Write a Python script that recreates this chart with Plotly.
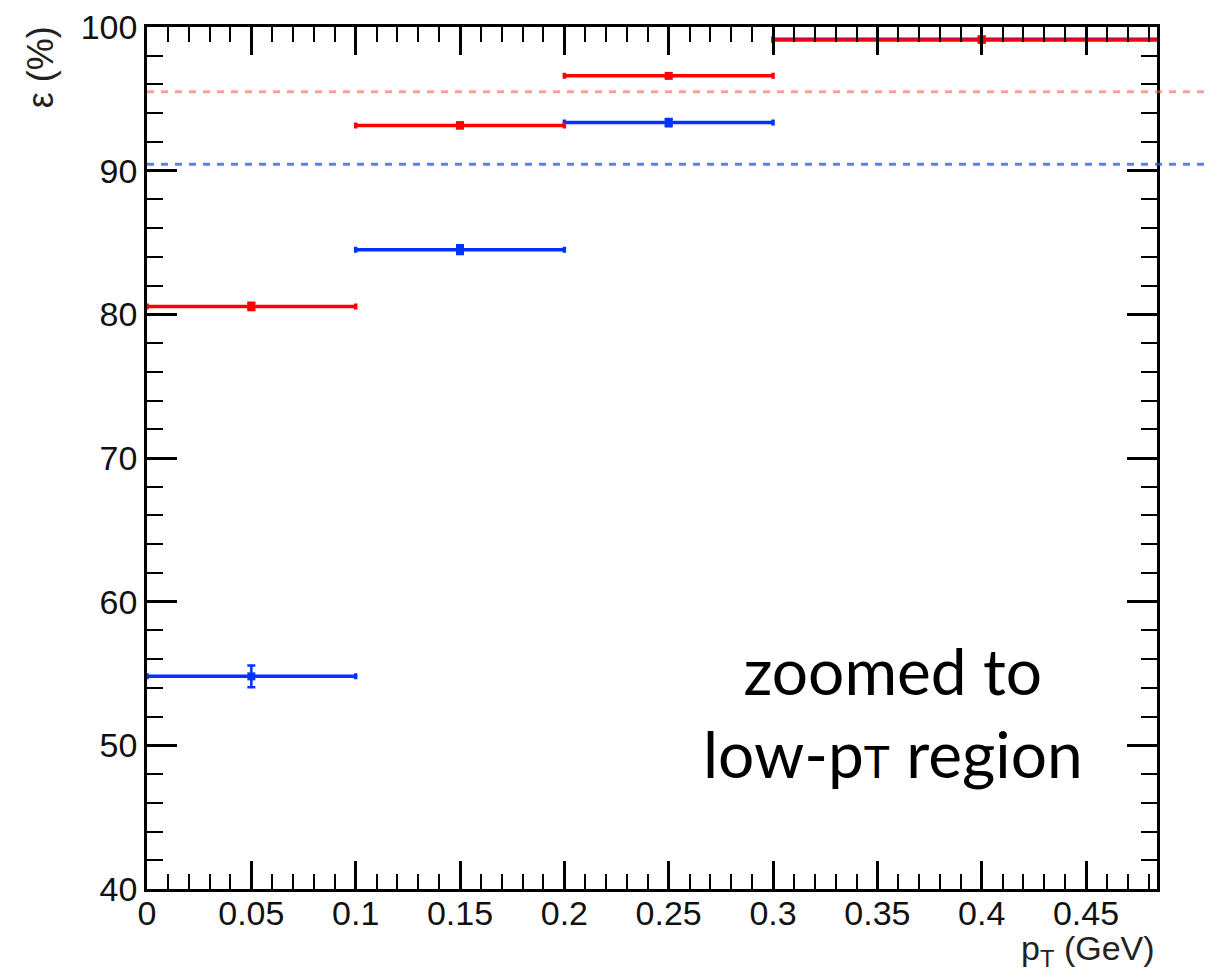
import plotly.graph_objects as go

# Data (bin edges in GeV, efficiency in %)
bin_lo = [0.0, 0.1, 0.2, 0.3]
bin_hi = [0.1, 0.2, 0.3, 0.5]
red_eff = [80.55, 93.15, 96.6, 99.1]
red_err = [0.25, 0.2, 0.1, 0.05]
blue_eff = [54.8, 84.5, 93.35, 99.15]
blue_err = [0.75, 0.3, 0.25, 0.1]
red_avg = 95.5
blue_avg = 90.45
x_ticks = [0, 0.05, 0.1, 0.15, 0.2, 0.25, 0.3, 0.35, 0.4, 0.45]
x_ticklabels = ["0", "0.05", "0.1", "0.15", "0.2", "0.25", "0.3", "0.35", "0.4", "0.45"]

x_center = [(a + b) / 2 for a, b in zip(bin_lo, bin_hi)]
x_half = [(b - a) / 2 for a, b in zip(bin_lo, bin_hi)]

RED = "#ff0000"
BLUE = "#0033ff"

fig = go.Figure()
for eff, err, col in [(blue_eff, blue_err, BLUE), (red_eff, red_err, RED)]:
    fig.add_trace(go.Scatter(
        x=x_center, y=eff, mode="markers",
        marker=dict(symbol="square", size=8, color=col),
        error_x=dict(type="data", array=x_half, color=col, thickness=3.5, width=3),
        error_y=dict(type="data", array=err, color=col, thickness=2.5, width=4),
        showlegend=False,
    ))

for val, col in [(red_avg, "rgba(255,90,90,0.6)"), (blue_avg, "rgba(40,80,255,0.75)")]:
    fig.add_shape(type="line", xref="paper", yref="y", x0=0, x1=1.0505, y0=val, y1=val,
                  line=dict(color=col, width=3, dash="7px,7px"), layer="above")

axis_common = dict(
    showline=True, linecolor="black", linewidth=2.5, mirror="allticks",
    ticks="inside", tickcolor="black", tickwidth=2.5, showgrid=False, zeroline=False,
    automargin=False, ticklabeloverflow="allow",
    tickfont=dict(family="Liberation Sans, Arial", size=34, color="#111"),
)
fig.update_xaxes(range=[0, 0.484], tickvals=x_ticks, ticktext=x_ticklabels, ticklen=28,
                 tickangle=0, ticklabelstandoff=-8,
                 minor=dict(ticks="inside", dtick=0.01, ticklen=15, tickcolor="black", tickwidth=2),
                 **axis_common)
fig.update_yaxes(range=[40, 100], dtick=10, ticklen=30,
                 minor=dict(ticks="inside", dtick=2, ticklen=16, tickcolor="black", tickwidth=2),
                 **axis_common)

fig.add_annotation(text="ε (%)", xref="paper", yref="paper", x=-0.106, y=1.003,
                   xanchor="center", yanchor="top", textangle=-90, showarrow=False,
                   font=dict(family="Liberation Sans, Arial", size=36, color="#222"))
fig.add_annotation(text="p<sub>T</sub> (GeV)", xref="paper", yref="paper", x=1.0, y=-0.071,
                   xanchor="right", yanchor="middle", showarrow=False,
                   font=dict(family="Liberation Sans, Arial", size=34, color="#222"))
fig.add_annotation(text="zoomed to<br>low-p<span style=\"font-size:44px\">T</span> region",
                   xref="paper", yref="paper", x=0.739, y=0.205, xanchor="center", yanchor="middle",
                   showarrow=False, align="center",
                   font=dict(family="Lato, Noto Sans", size=64, color="black"))

fig.update_layout(width=1212, height=962, plot_bgcolor="white", paper_bgcolor="white",
                  margin=dict(l=139, r=63, t=19, b=81))
fig.write_html("out.html")
